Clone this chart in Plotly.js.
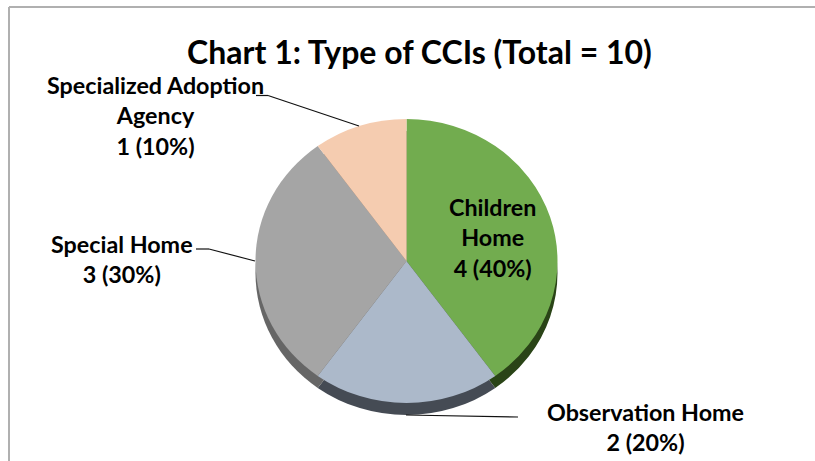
<!DOCTYPE html>
<html>
<head>
<meta charset="utf-8">
<script src="https://cdn.plot.ly/plotly-3.0.0.min.js"></script>
<style>html,body{margin:0;padding:0;background:#fff}#chart{width:815px;height:461px}</style>
</head>
<body>
<div id="chart"></div>
<script>
var categories = ["Children Home", "Observation Home", "Special Home", "Specialized Adoption Agency"];
var counts = [4, 2, 3, 1];
var faceColors = ["#72ac4f", "#acb9ca", "#a5a5a5", "#f5ccb0"];
var rimColors = ["#2a4417", "#454b54", "#666666", "#8f7766"];
var chartTitle = "Chart 1: Type of CCIs (Total = 10)";

var W = 815, H = 461;
var FONT = "Lato, 'Open Sans', sans-serif";
var cx = 406.5, cy = 261, rx = 151, ry = 142, depth = 12;
var squash = ry / rx;

function px(x) { return x / W; }
function py(y) { return 1 - y / H; }
function pieDomain(centerY) {
  return { x: [px(cx - rx), px(cx + rx)], y: [py(centerY + rx), py(centerY - rx)] };
}
function pieTrace(colors, centerY) {
  return {
    type: "pie", labels: categories, values: counts, sort: false, direction: "clockwise",
    rotation: 0, textinfo: "none", hoverinfo: "label+value+percent", showlegend: false,
    marker: { colors: colors, line: { width: 0 } }, domain: pieDomain(centerY)
  };
}
function label(text, x, y) {
  return { text: text, x: px(x), y: py(y), xref: "paper", yref: "paper", showarrow: false,
    xanchor: "center", yanchor: "middle", align: "center",
    font: { family: FONT, size: 23.3, color: "#000", weight: 700 } };
}
function seg(x0, y0, x1, y1, color, w) {
  return { type: "line", xref: "paper", yref: "paper", x0: px(x0), y0: py(y0), x1: px(x1), y1: py(y1),
    line: { color: color, width: w } };
}
function makeLabel(i, pre) {
  var t = counts[i] + " (" + Math.round(100 * counts[i] / counts.reduce(function (a, b) { return a + b; }, 0)) + "%)";
  return pre + "<br>" + t;
}

var data = [pieTrace(rimColors, cy + depth / squash), pieTrace(faceColors, cy)];
var layout = {
  width: W, height: H, margin: { l: 0, r: 0, t: 0, b: 0 },
  paper_bgcolor: "#fff", plot_bgcolor: "#fff",
  title: { text: chartTitle, x: 419.5 / W, xanchor: "center", y: py(53), yanchor: "middle",
    font: { family: FONT, size: 32, color: "#000", weight: 700 } },
  annotations: [
    label(makeLabel(0, "Children<br>Home"), 493, 237),
    label(makeLabel(1, "Observation Home"), 645, 427),
    label(makeLabel(2, "Special Home"), 122, 259),
    label(makeLabel(3, "Specialized Adoption<br>Agency"), 155, 116)
  ],
  shapes: [
    seg(9, 7, 815, 7, "#b0b0b0", 2),
    seg(9, 7, 9, 461, "#b0b0b0", 2),
    seg(256, 95.5, 268, 95.5, "#111", 1.2),
    seg(268, 95.5, 359, 126, "#111", 1.2),
    seg(196, 249, 209, 249, "#111", 1.2),
    seg(209, 249, 255, 261, "#111", 1.2),
    seg(406, 415, 518, 417, "#111", 1.2)
  ]
};
Plotly.newPlot("chart", data, layout, { displayModeBar: false }).then(function () {
  var g = document.querySelector("#chart .pielayer");
  g.setAttribute("transform", "translate(0," + cy + ") scale(1," + squash + ") translate(0," + (-cy) + ")");
});
</script>
</body>
</html>
